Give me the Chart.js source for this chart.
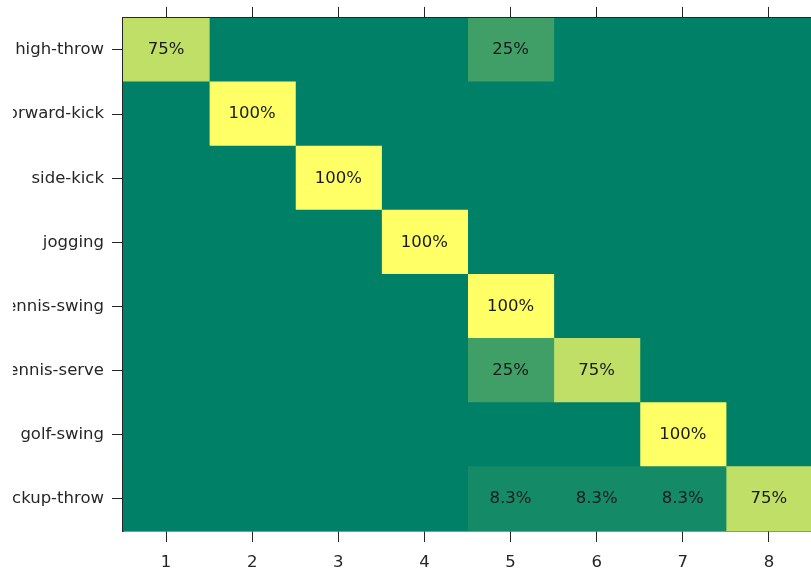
<!DOCTYPE html>
<html>
<head>
<meta charset="utf-8">
<title>Confusion matrix</title>
<script src="https://cdn.jsdelivr.net/npm/chart.js@4.4.1/dist/chart.umd.min.js"></script>
<style>
  html, body { margin: 0; padding: 0; background: #fff; overflow: hidden; }
  body { width: 811px; height: 574px; position: relative; }
  #matrix { position: absolute; left: 13px; top: 0; }
</style>
</head>
<body>
<canvas id="matrix" width="900" height="574"></canvas>
<script>
// Row classes (true label) and predicted cluster ids
const rowLabels = ["high-throw", "forward-kick", "side-kick", "jogging",
  "tennis-swing", "tennis-serve", "golf-swing", "pickup-throw"];
const colLabels = ["1", "2", "3", "4", "5", "6", "7", "8"];

// Percentages per row
const highThrow   = [75, 0, 0, 0, 25, 0, 0, 0];
const forwardKick = [0, 100, 0, 0, 0, 0, 0, 0];
const sideKick    = [0, 0, 100, 0, 0, 0, 0, 0];
const jogging     = [0, 0, 0, 100, 0, 0, 0, 0];
const tennisSwing = [0, 0, 0, 0, 100, 0, 0, 0];
const tennisServe = [0, 0, 0, 0, 25, 75, 0, 0];
const golfSwing   = [0, 0, 0, 0, 0, 0, 100, 0];
const pickupThrow = [0, 0, 0, 0, 8.3, 8.3, 8.3, 75];

const rows = [highThrow, forwardKick, sideKick, jogging,
  tennisSwing, tennisServe, golfSwing, pickupThrow];

const FONT = { family: "'DejaVu Sans', sans-serif", size: 16.5 };
const AXIS_COLOR = "#262626";

// "summer" colormap: green -> yellow
function summer(t) {
  const r = Math.round(255 * t);
  const g = Math.round(255 * (0.5 + 0.5 * t));
  const b = Math.round(255 * 0.4);
  return `rgb(${r},${g},${b})`;
}

// one dataset per column, each cell a floating bar spanning its column
const datasets = colLabels.map((c, j) => ({
  label: c,
  data: rows.map(() => [j + 0.5, j + 1.5]),
  backgroundColor: rows.map(r => summer(r[j] / 100)),
  borderWidth: 0,
  inflateAmount: 0.5,
  grouped: false,
  barPercentage: 1,
  categoryPercentage: 1,
}));

const columnTicks = scale => {
  scale.ticks = colLabels.map((c, j) => ({ value: j + 1 }));
};

// percentage text in each non-empty cell
const cellLabels = {
  id: "cellLabels",
  afterDatasetsDraw(chart) {
    const { ctx, scales } = chart;
    ctx.save();
    ctx.font = `${FONT.size}px ${FONT.family}`;
    ctx.fillStyle = "#1a1a1a";
    ctx.textAlign = "center";
    ctx.textBaseline = "middle";
    rows.forEach((r, i) => {
      r.forEach((v, j) => {
        if (!v) return;
        const x = scales.x.getPixelForValue(j + 1);
        const y = scales.y.getPixelForValue(i);
        ctx.fillText(`${v}%`, x, y);
      });
    });
    ctx.restore();
  },
};

const axisGrid = {
  drawOnChartArea: false,
  tickLength: 11,
  color: AXIS_COLOR,
  tickWidth: 1,
};

const axisBorder = { color: AXIS_COLOR, width: 1.5 };

new Chart(document.getElementById("matrix"), {
  type: "bar",
  data: { labels: rowLabels, datasets },
  options: {
    indexAxis: "y",
    responsive: false,
    animation: false,
    layout: { padding: { left: 0, right: 101, top: 0, bottom: 0 } },
    plugins: {
      legend: { display: false },
      tooltip: { enabled: false },
    },
    scales: {
      x: {
        type: "linear",
        position: "bottom",
        min: 0.5,
        max: 8.5,
        afterBuildTicks: columnTicks,
        afterFit: s => { s.height = 43; },
        grid: axisGrid,
        border: axisBorder,
        ticks: {
          font: FONT,
          color: AXIS_COLOR,
          padding: 11,
          maxRotation: 0,
          autoSkip: false,
          callback: v => colLabels[v - 1],
        },
      },
      x2: {
        type: "linear",
        position: "top",
        min: 0.5,
        max: 8.5,
        afterBuildTicks: columnTicks,
        afterFit: s => { s.height = 16; },
        grid: axisGrid,
        border: axisBorder,
        ticks: { display: false },
      },
      y: {
        type: "category",
        offset: true,
        afterFit: s => { s.width = 110; },
        grid: Object.assign({}, axisGrid, { offset: false }),
        border: axisBorder,
        ticks: { font: FONT, color: AXIS_COLOR, padding: 8, autoSkip: false },
      },
    },
  },
  plugins: [cellLabels],
});
</script>
</body>
</html>
